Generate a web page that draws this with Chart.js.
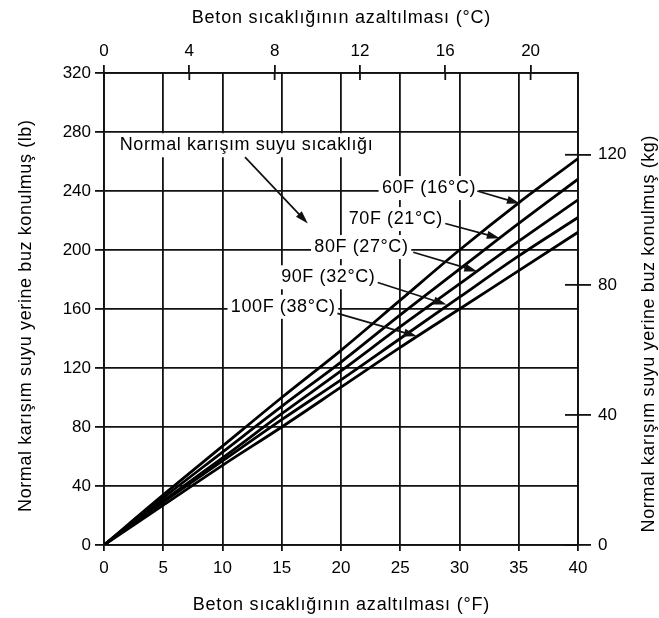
<!DOCTYPE html>
<html>
<head>
<meta charset="utf-8">
<script src="https://cdn.jsdelivr.net/npm/chart.js@4/dist/chart.umd.min.js"></script>
<style>
  html, body { margin: 0; padding: 0; background: #fff; }
  #wrap { width: 659px; height: 618px; }
</style>
</head>
<body>
<div id="wrap"><canvas id="chart" width="659" height="618"></canvas></div>
<script>
// Temperature drop of the concrete (°F)
const tempDrop = [0, 5, 10, 15, 20, 25, 30, 35, 40];

// Ice replacing mix water (lb), one curve per normal mix water temperature
const ice60 = [0, 34, 67, 100, 132, 166, 200, 232, 262];
const ice70 = [0, 32, 63, 94, 124, 156, 187, 218, 248];
const ice80 = [0, 30, 59, 89, 118, 148, 177, 206, 234];
const ice90 = [0, 29, 57, 85, 112, 140, 168, 196, 222];
const ice100 = [0, 27, 54, 80, 107, 134, 160, 186, 212];

const seriesNames = ['60F (16°C)', '70F (21°C)', '80F (27°C)', '90F (32°C)', '100F (38°C)'];
const seriesValues = [ice60, ice70, ice80, ice90, ice100];

const lbTicks = [0, 40, 80, 120, 160, 200, 240, 280, 320];
const kgTicks = [0, 40, 80, 120];
const celsiusTicks = [0, 4, 8, 12, 16, 20];

const LB_PER_KG = 2.2046;
const FONT = "'Liberation Sans', Arial, sans-serif";
const INK = '#111';

// callouts: text centre and arrow, all in chart units (°F, lb)
const callouts = [
  { text: 'Normal karışım suyu sıcaklığı', at: [12.0, 271], from: [11.9, 263], to: [17.2, 218] },
  { text: seriesNames[0], at: [27.4, 242], from: [31.5, 240], to: [35.1, 231.5] },
  { text: seriesNames[1], at: [24.6, 221], from: [28.8, 218], to: [33.4, 208] },
  { text: seriesNames[2], at: [21.7, 202], from: [26.1, 198.5], to: [31.5, 185.5] },
  { text: seriesNames[3], at: [18.9, 181.5], from: [23.1, 178], to: [28.9, 163] },
  { text: seriesNames[4], at: [15.1, 161.5], from: [19.7, 157], to: [26.4, 141.5] }
];

Chart.defaults.font.family = FONT;
Chart.defaults.color = '#000';

const datasets = seriesValues.map(function (vals, i) {
  return {
    label: seriesNames[i],
    data: tempDrop.map(function (t, j) { return { x: t, y: vals[j] }; }),
    borderColor: '#000',
    borderWidth: 2.8,
    pointRadius: 0,
    cubicInterpolationMode: 'monotone',
    fill: false
  };
});

function arrow(ctx, x1, y1, x2, y2) {
  const a = Math.atan2(y2 - y1, x2 - x1);
  ctx.beginPath();
  ctx.moveTo(x1, y1);
  ctx.lineTo(x2 - 6 * Math.cos(a), y2 - 6 * Math.sin(a));
  ctx.stroke();
  ctx.beginPath();
  ctx.moveTo(x2, y2);
  ctx.lineTo(x2 - 13 * Math.cos(a) + 4 * Math.sin(a), y2 - 13 * Math.sin(a) - 4 * Math.cos(a));
  ctx.lineTo(x2 - 13 * Math.cos(a) - 4 * Math.sin(a), y2 - 13 * Math.sin(a) + 4 * Math.cos(a));
  ctx.closePath();
  ctx.fill();
}

function spacedText(ctx, text, x, y, spacing) {
  ctx.letterSpacing = spacing + 'px';
  ctx.fillText(text, x + spacing / 2, y);
  ctx.letterSpacing = '0px';
}

const extras = {
  id: 'extras',
  afterDatasetsDraw(chart) {
    const ctx = chart.ctx;
    const sx = chart.scales.x, sy = chart.scales.y;
    ctx.save();
    ctx.font = '18px ' + FONT;
    ctx.textAlign = 'center';
    ctx.textBaseline = 'middle';
    ctx.lineWidth = 1.7;
    ctx.strokeStyle = INK;
    callouts.forEach(function (c) {
      const px = sx.getPixelForValue(c.at[0]);
      const py = sy.getPixelForValue(c.at[1]);
      ctx.letterSpacing = '0.6px';
      const w = ctx.measureText(c.text).width;
      ctx.fillStyle = '#fff';
      ctx.fillRect(px - w / 2 - 3, py - 12, w + 6, 24);
      ctx.fillStyle = '#000';
      spacedText(ctx, c.text, px, py, 0.6);
      ctx.fillStyle = INK;
      arrow(ctx, sx.getPixelForValue(c.from[0]), sy.getPixelForValue(c.from[1]),
        sx.getPixelForValue(c.to[0]), sy.getPixelForValue(c.to[1]));
    });
    ctx.restore();
  },
  afterDraw(chart) {
    const ctx = chart.ctx;
    const area = chart.chartArea;
    const top = chart.scales.x2, right = chart.scales.y2;
    ctx.save();
    ctx.strokeStyle = INK;
    ctx.lineWidth = 1.8;
    // tick marks that also reach inside the frame
    top.ticks.forEach(function (t) {
      const x = top.getPixelForValue(t.value);
      ctx.beginPath(); ctx.moveTo(x, area.top); ctx.lineTo(x, area.top + 7); ctx.stroke();
    });
    right.ticks.forEach(function (t) {
      const y = right.getPixelForValue(t.value);
      ctx.beginPath(); ctx.moveTo(area.right - 13, y); ctx.lineTo(area.right, y); ctx.stroke();
    });
    // axis titles
    ctx.fillStyle = '#000';
    ctx.font = '18px ' + FONT;
    ctx.textAlign = 'center';
    ctx.textBaseline = 'middle';
    const midX = (area.left + area.right) / 2;
    spacedText(ctx, 'Beton sıcaklığının azaltılması (°C)', midX, 18, 0.8);
    spacedText(ctx, 'Beton sıcaklığının azaltılması (°F)', midX, 605, 0.8);
    // side titles, both read bottom to top
    ctx.translate(26, 316);
    ctx.rotate(-Math.PI / 2);
    spacedText(ctx, 'Normal karışım suyu yerine buz konulmuş (lb)', 0, 0, 0.6);
    ctx.setTransform(1, 0, 0, 1, 0, 0);
    ctx.translate(649, 334);
    ctx.rotate(-Math.PI / 2);
    spacedText(ctx, 'Normal karışım suyu yerine buz konulmuş (kg)', 0, 0, 0.6);
    ctx.restore();
  }
};

const tickFont = { size: 17 };

const config = {
  type: 'line',
  data: { datasets: datasets },
  options: {
    responsive: false,
    animation: false,
    events: [],
    layout: { padding: 0, autoPadding: false },
    plugins: { legend: { display: false }, tooltip: { enabled: false } },
    scales: {
      x: {
        type: 'linear', position: 'bottom', min: 0, max: 40,
        ticks: { stepSize: 5, font: tickFont, padding: 7, color: '#000' },
        grid: { color: INK, lineWidth: 1.8, tickLength: 6 },
        border: { color: INK, width: 1.8 },
        afterFit: function (s) { s.height = 73; }
      },
      x2: {
        type: 'linear', position: 'top', min: 0, max: 40 * 5 / 9,
        afterBuildTicks: function (s) { s.ticks = celsiusTicks.map(function (v) { return { value: v }; }); },
        ticks: { font: tickFont, padding: 3, color: '#000' },
        grid: { drawOnChartArea: false, color: INK, lineWidth: 1.8, tickLength: 8 },
        border: { color: INK, width: 1.8 },
        afterFit: function (s) { s.height = 73; }
      },
      y: {
        type: 'linear', position: 'left', min: 0, max: 320,
        afterBuildTicks: function (s) { s.ticks = lbTicks.map(function (v) { return { value: v }; }); },
        ticks: { font: tickFont, padding: 4, color: '#000' },
        grid: { color: INK, lineWidth: 1.8, tickLength: 9 },
        border: { color: INK, width: 1.8 },
        afterFit: function (s) { s.width = 104; }
      },
      y2: {
        type: 'linear', position: 'right', min: 0, max: 320 / LB_PER_KG,
        afterBuildTicks: function (s) { s.ticks = kgTicks.map(function (v) { return { value: v }; }); },
        ticks: { font: tickFont, padding: 7, color: '#000' },
        grid: { drawOnChartArea: false, color: INK, lineWidth: 1.8, tickLength: 13 },
        border: { color: INK, width: 1.8 },
        afterFit: function (s) { s.width = 81; }
      }
    }
  },
  plugins: [extras]
};

new Chart(document.getElementById('chart'), config);
</script>
</body>
</html>
